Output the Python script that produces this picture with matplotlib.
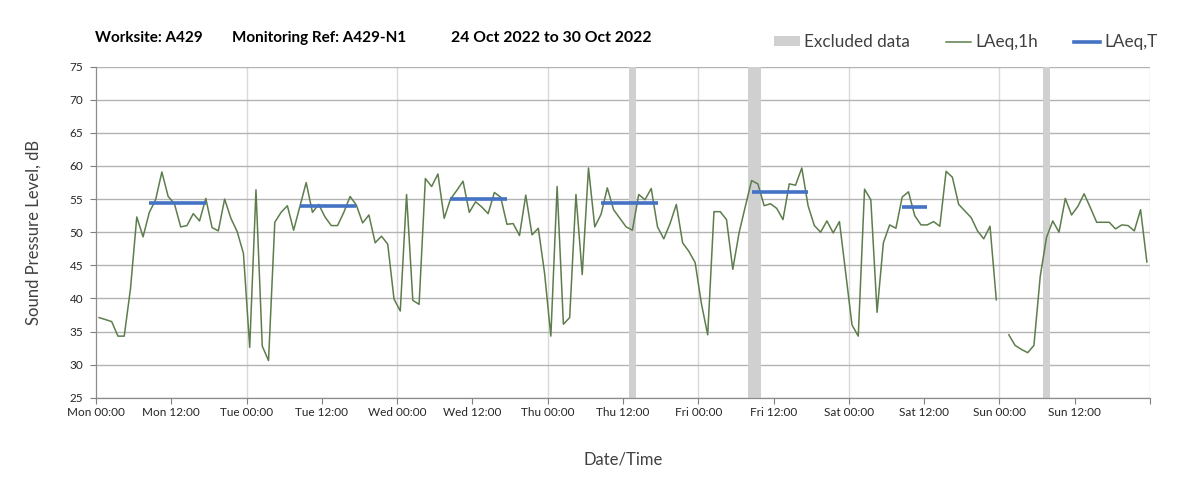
import numpy as np
import matplotlib
matplotlib.use('Agg')
import matplotlib.pyplot as plt
from matplotlib.patches import Patch
from matplotlib.lines import Line2D

plt.rcParams['font.family'] = ['Lato', 'DejaVu Sans']

# ── hourly LAeq,1h values (dB), one list per day, 00:00 .. 23:00 ─────────────
mon = [37.1, 36.8, 36.5, 34.3, 34.3, 41.5, 52.3, 49.3, 53.0, 54.9, 59.1, 55.4,
       54.3, 50.8, 51.0, 52.8, 51.7, 55.1, 50.7, 50.2, 55.0, 52.1, 50.1, 46.8]
tue = [32.6, 56.4, 32.8, 30.6, 51.5, 53.0, 54.0, 50.3, 53.9, 57.5, 53.0, 54.2,
       52.3, 51.0, 51.0, 53.0, 55.4, 54.1, 51.4, 52.6, 48.4, 49.4, 48.2, 39.9]
wed = [38.1, 55.7, 39.7, 39.1, 58.1, 56.9, 58.8, 52.1, 55.0, 56.3, 57.7, 53.0,
       54.6, 53.8, 52.8, 56.0, 55.3, 51.2, 51.3, 49.5, 55.6, 49.6, 50.6, 43.8]
thu = [34.3, 56.9, 36.1, 37.1, 55.7, 43.6, 59.7, 50.8, 52.7, 56.7, 53.4, 52.1,
       50.8, 50.3, 55.7, 54.9, 56.6, 50.8, 49.0, 51.3, 54.2, 48.4, 47.1, 45.4]
fri = [39.2, 34.5, 53.1, 53.1, 51.9, 44.4, 49.9, 53.9, 57.8, 57.3, 54.0, 54.3,
       53.6, 51.9, 57.3, 57.1, 59.7, 54.0, 51.0, 50.0, 51.7, 49.9, 51.6, 43.8]
sat = [36.0, 34.3, 56.5, 54.9, 37.9, 48.4, 51.1, 50.6, 55.3, 56.1, 52.5, 51.1,
       51.1, 51.6, 50.9, 59.2, 58.3, 54.2, 53.2, 52.2, 50.2, 49.0, 50.9, 39.8]
sun = [np.nan, 34.5, 32.9, 32.3, 31.8, 32.9, 43.3, 49.2, 51.7, 50.0, 55.1, 52.6,
       53.9, 55.8, 53.7, 51.5, 51.5, 51.5, 50.5, 51.1, 51.0, 50.2, 53.4, 45.5]

# ── LAeq,T daytime periods (hour from Mon 00:00) ─────────────────────────────
laeqt_start = [8, 32, 56, 80, 104, 128]
laeqt_end = [17, 41, 65, 89, 113, 132]
laeqt_value = [54.45, 53.95, 55.0, 54.35, 56.0, 53.75]

# ── excluded data periods (hour from Mon 00:00) ──────────────────────────────
excl_start = [85, 104, 151]
excl_end = [86, 106, 152]

day_names = ['Mon', 'Tue', 'Wed', 'Thu', 'Fri', 'Sat', 'Sun']

W, H = 1203, 490
fig = plt.figure(figsize=(W / 100, H / 100), dpi=100)
ax = fig.add_axes([96 / W, 1 - 397.7 / H, (1150 - 96) / W, (397.7 - 66.7) / H])

laeq1h = np.array(mon + tue + wed + thu + fri + sat + sun)
hours = np.arange(len(laeq1h)) + 0.5

for s, e in zip(excl_start, excl_end):
    ax.axvspan(s, e, color='#d0d0d0', lw=0, zorder=1)

ax.plot(hours, laeq1h, color='#5d7d4c', lw=1.1, zorder=3)

for s, e, v in zip(laeqt_start, laeqt_end, laeqt_value):
    ax.plot([s + 0.5, e + 0.5], [v, v], color='#4472c4', lw=2.6,
            solid_capstyle='butt', zorder=4)

# ── axes ─────────────────────────────────────────────────────────────────────
ax.set_xlim(0, 168)
ax.set_ylim(25, 75)
ax.set_yticks(np.arange(25, 76, 5))
xt = np.arange(0, 169, 12)
ax.set_xticks(xt)
xlabels = [f'{day_names[int(t // 24)]} {int(t % 24):02d}:00' if t < 168 else ''
           for t in xt]
ax.set_xticklabels(xlabels)
ax.tick_params(axis='both', labelsize=8.5, colors='#7f7f7f', labelcolor='#262626',
               length=4, width=0.8)
ax.tick_params(axis='x', pad=3)
ax.tick_params(axis='y', pad=5)

ax.grid(axis='y', color='#b3b3b3', lw=1.0, zorder=0)
for d in range(1, 8):
    ax.axvline(d * 24, color='#d9d9d9', lw=1.0, zorder=0)
for sp in ['top', 'right']:
    ax.spines[sp].set_visible(False)
for sp in ['left', 'bottom']:
    ax.spines[sp].set_color('#8c8c8c')
    ax.spines[sp].set_linewidth(0.9)
ax.set_axisbelow(True)

ax.set_ylabel('Sound Pressure Level, dB', fontsize=12, color='#404040', labelpad=20)
ax.set_xlabel('Date/Time', fontsize=12, color='#404040', labelpad=24)

# ── title pieces ─────────────────────────────────────────────────────────────
ty = 1 - 38 / H
fig.text(95 / W, ty, 'Worksite: A429', fontsize=11, fontweight='bold', va='center')
fig.text(232 / W, ty, 'Monitoring Ref: A429-N1', fontsize=11, fontweight='bold', va='center')
fig.text(451 / W, ty, '24 Oct 2022 to 30 Oct 2022', fontsize=11.3, fontweight='bold', va='center')

# ── legend ───────────────────────────────────────────────────────────────────
handles = [Patch(facecolor='#d0d0d0', edgecolor='none'),
           Line2D([], [], color='#5d7d4c', lw=1.1),
           Line2D([], [], color='#4472c4', lw=2.6)]
fig.legend(handles, ['Excluded data', 'LAeq,1h', 'LAeq,T'], ncol=3,
           loc='center left', bbox_to_anchor=(774 / W, 1 - 42 / H),
           frameon=False, fontsize=12.3, handlelength=1.5, handleheight=0.5,
           handletextpad=0.25, columnspacing=2.1, borderpad=0, borderaxespad=0,
           labelcolor='#404040')

fig.savefig('out.png', dpi=100)
